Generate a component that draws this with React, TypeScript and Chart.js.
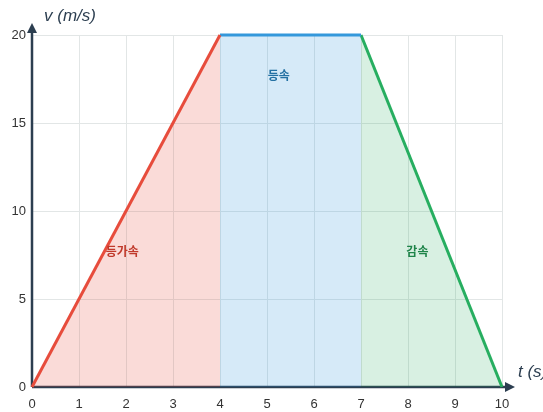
import React, { useEffect, useRef } from "react";
import { Chart, registerables } from "chart.js";

Chart.register(...registerables);

const xTicks = [0, 1, 2, 3, 4, 5, 6, 7, 8, 9, 10];
const yTicks = [0, 5, 10, 15, 20];
const accelT = [0, 4];
const accelV = [0, 20];
const constT = [4, 7];
const constV = [20, 20];
const decelT = [7, 10];
const decelV = [20, 0];
const regionLabels = ["등가속", "등속", "감속"];
const regionX = [1.92, 5.25, 8.2];
const regionY = [7.7, 17.7, 7.7];
const regionColors = ["#c0392b", "#2471a3", "#1e8449"];
const yTitle = "v (m/s)";
const xTitle = "t (s)";

const toPts = (xs: number[], ys: number[]) => xs.map((x, i) => ({ x, y: ys[i] }));

const AXIS = "#2c3e50";
const FONT = "'Helvetica Neue', Helvetica, Arial, 'Liberation Sans', sans-serif";

export default function App() {
  const ref = useRef<HTMLCanvasElement | null>(null);
  useEffect(() => {
    if (!ref.current) return;
    const overlay = {
      id: "overlay",
      beforeDatasetsDraw(chart: any) {
        const { ctx, chartArea } = chart;
        const { left, right, top, bottom } = chartArea;
        ctx.save();
        ctx.strokeStyle = AXIS;
        ctx.fillStyle = AXIS;
        ctx.lineWidth = 2.5;
        ctx.beginPath();
        ctx.moveTo(left, bottom);
        ctx.lineTo(left, top - 4);
        ctx.moveTo(left, bottom);
        ctx.lineTo(right + 6, bottom);
        ctx.stroke();
        ctx.beginPath();
        ctx.moveTo(left, top - 12);
        ctx.lineTo(left - 5, top - 2);
        ctx.lineTo(left + 5, top - 2);
        ctx.closePath();
        ctx.fill();
        ctx.beginPath();
        ctx.moveTo(right + 13, bottom);
        ctx.lineTo(right + 3, bottom - 5);
        ctx.lineTo(right + 3, bottom + 5);
        ctx.closePath();
        ctx.fill();
        ctx.restore();
      },
      afterDatasetsDraw(chart: any) {
        const { ctx, chartArea, scales } = chart;
        ctx.save();
        ctx.textAlign = "center";
        ctx.textBaseline = "middle";
        ctx.font = "bold 12px 'Noto Sans CJK KR', sans-serif";
        regionLabels.forEach((t, i) => {
          ctx.fillStyle = regionColors[i];
          ctx.fillText(t, scales.x.getPixelForValue(regionX[i]), scales.y.getPixelForValue(regionY[i]));
        });
        ctx.fillStyle = AXIS;
        ctx.font = "italic 17px " + FONT;
        ctx.textAlign = "left";
        ctx.fillText(yTitle, chartArea.left + 12, chartArea.top - 19);
        ctx.fillText(xTitle, chartArea.right + 16, chartArea.bottom - 15);
        ctx.restore();
      },
    };
    const chart = new Chart(ref.current, {
      type: "line",
      data: {
        datasets: [
          {
            data: toPts(accelT, accelV),
            borderColor: "#e74c3c",
            backgroundColor: "rgba(231,76,60,0.2)",
            fill: "origin",
            clip: 6,
          },
          {
            data: toPts(constT, constV),
            borderColor: "#3498db",
            backgroundColor: "rgba(52,152,219,0.2)",
            fill: "origin",
            clip: 6,
          },
          {
            data: toPts(decelT, decelV),
            borderColor: "#27ae60",
            backgroundColor: "rgba(39,174,96,0.18)",
            fill: "origin",
            clip: 6,
          },
        ] as any,
      },
      plugins: [overlay],
      options: {
        animation: false,
        responsive: true,
        maintainAspectRatio: false,
        layout: { padding: { left: 0, top: 35, right: 41, bottom: 0 } },
        elements: {
          line: { borderWidth: 3, tension: 0 },
          point: { radius: 0, hoverRadius: 0 },
        },
        plugins: { legend: { display: false }, tooltip: { enabled: false } },
        scales: {
          x: {
            type: "linear",
            min: 0,
            max: 10,
            afterBuildTicks: (s: any) => {
              s.ticks = xTicks.map((v) => ({ value: v }));
            },
            afterFit: (s: any) => {
              s.height = 25;
            },
            grid: { color: "#e2e6e6", drawTicks: false },
            border: { display: false },
            ticks: { color: "#333", font: { size: 13, family: FONT }, padding: 10 },
          },
          y: {
            min: 0,
            max: 20,
            afterBuildTicks: (s: any) => {
              s.ticks = yTicks.map((v) => ({ value: v }));
            },
            afterFit: (s: any) => {
              s.width = 32;
            },
            grid: { color: "#e2e6e6", drawTicks: false },
            border: { display: false },
            ticks: { color: "#333", font: { size: 13, family: FONT }, padding: 6 },
          },
        },
      } as any,
    });
    return () => chart.destroy();
  }, []);
  return (
    <div style={{ position: "absolute", left: 0, top: 0, width: 543, height: 412, background: "#fff" }}>
      <canvas ref={ref} />
    </div>
  );
}
